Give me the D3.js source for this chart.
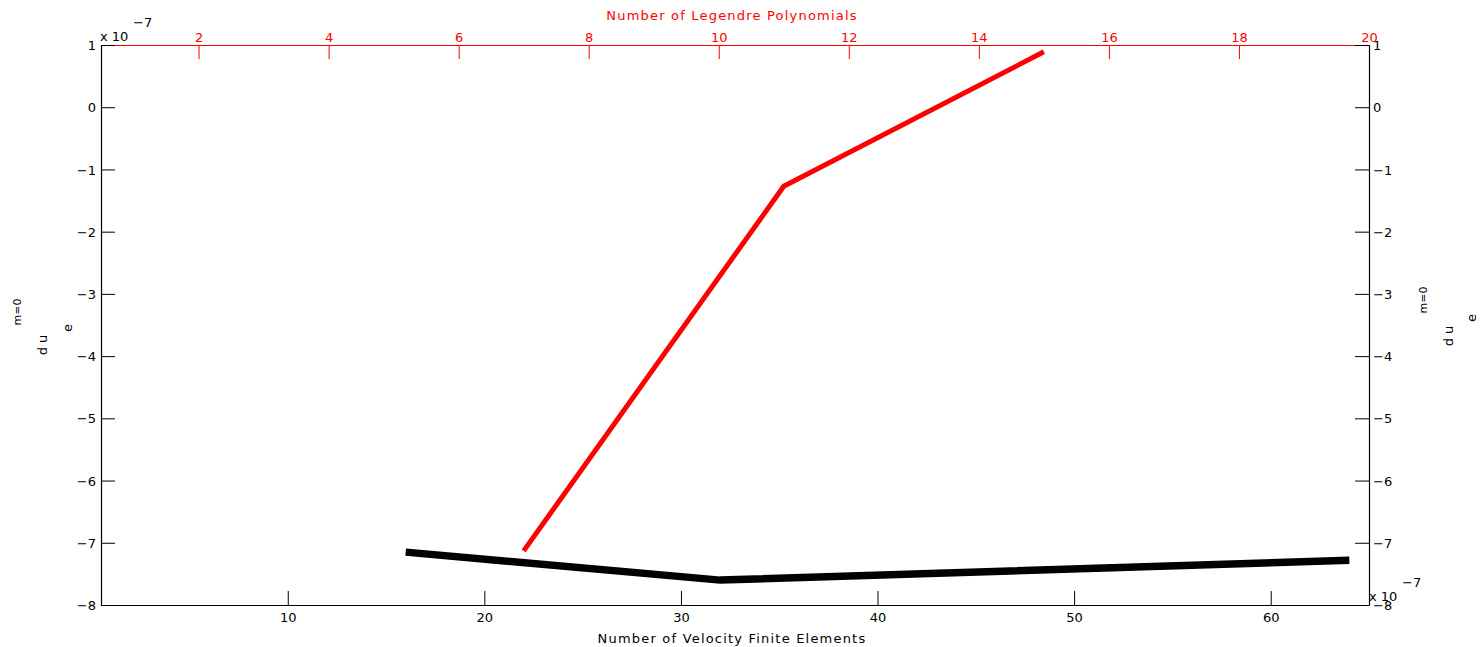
<!DOCTYPE html>
<html>
<head>
<meta charset="utf-8">
<script src="https://cdn.jsdelivr.net/npm/d3@7"></script>
<style>
  body { margin: 0; background: #fff; }
  svg { font-family: "DejaVu Sans", sans-serif; font-size: 13px; }
  .title { letter-spacing: 1.2px; }
</style>
</head>
<body>
<svg width="1481" height="647"></svg>
<script>
// values are in units of 1e-7
let elements = [16, 32, 64],
    elementErr = [-7.15, -7.60, -7.28],
    legendre = [7, 11, 15],
    legendreErr = [-7.13, -1.27, 0.89],
    yTicks = [1, 0, -1, -2, -3, -4, -5, -6, -7, -8],
    bottomTicks = [10, 20, 30, 40, 50, 60],
    topTicks = [2, 4, 6, 8, 10, 12, 14, 16, 18, 20];

let svg = d3.select("svg"),
    margin = {top: 45, right: 112, bottom: 42, left: 101},
    width = +svg.attr("width"),
    height = +svg.attr("height"),
    red = "#ff0000";

let xBottom = d3.scaleLinear().domain([0.5, 65]).range([margin.left, width - margin.right]),
    xTop = d3.scaleLinear().domain([0.5, 20]).range([margin.left, width - margin.right]),
    y = d3.scaleLinear().domain([-8, 1]).range([height - margin.bottom, margin.top]);

let fmt = d3.format("d"),
    yfmt = function(d) { return d < 0 ? "\u2212" + (-d) : d; },
    tickLen = 14;

// bottom axis
let gb = svg.append("g").attr("transform", "translate(0," + y(-8) + ")")
    .call(d3.axisTop(xBottom).tickValues(bottomTicks).tickSize(tickLen).tickSizeOuter(0).tickFormat(""));
gb.selectAll(".tick")
  .append("text").attr("y", 17).attr("text-anchor", "middle").attr("fill", "#000")
  .text(function(d) { return fmt(d); });

// top axis (red)
let gt = svg.append("g").attr("transform", "translate(0," + y(1) + ")")
    .call(d3.axisBottom(xTop).tickValues(topTicks).tickSize(tickLen).tickSizeOuter(0).tickFormat(""));
gt.selectAll("line, path").attr("stroke", red);
gt.selectAll(".tick")
  .append("text").attr("y", -3).attr("text-anchor", "middle").attr("fill", red)
  .text(function(d) { return fmt(d); });

// left axis
let gl = svg.append("g").attr("transform", "translate(" + margin.left + ",0)")
    .call(d3.axisRight(y).tickValues(yTicks).tickSize(tickLen).tickSizeOuter(0).tickFormat(""));
gl.selectAll(".tick")
  .append("text").attr("x", -5).attr("dy", "0.35em").attr("text-anchor", "end").attr("fill", "#000")
  .text(yfmt);

// right axis
let gr = svg.append("g").attr("transform", "translate(" + (width - margin.right) + ",0)")
    .call(d3.axisLeft(y).tickValues(yTicks).tickSize(tickLen).tickSizeOuter(0).tickFormat(""));
gr.selectAll(".tick")
  .append("text").attr("x", 4).attr("dy", "0.35em").attr("text-anchor", "start").attr("fill", "#000")
  .text(yfmt);

svg.selectAll("g").attr("font-size", 13).attr("font-family", null);
svg.selectAll(".domain").attr("stroke-width", 1.2);

// lines
let lineB = d3.line().x(function(d) { return xBottom(d[0]); }).y(function(d) { return y(d[1]); }),
    lineT = d3.line().x(function(d) { return xTop(d[0]); }).y(function(d) { return y(d[1]); });

svg.append("path")
  .datum(d3.zip(elements, elementErr))
  .attr("fill", "none").attr("stroke", "#000").attr("stroke-width", 7.5)
  .attr("d", lineB);

svg.append("path")
  .datum(d3.zip(legendre, legendreErr))
  .attr("fill", "none").attr("stroke", red).attr("stroke-width", 5)
  .attr("d", lineT);

// axis titles
svg.append("text").attr("class", "title").attr("x", 732).attr("y", 643)
  .attr("text-anchor", "middle").text("Number of Velocity Finite Elements");
svg.append("text").attr("class", "title").attr("x", 732).attr("y", 20)
  .attr("text-anchor", "middle").attr("fill", red).text("Number of Legendre Polynomials");

// exponent labels
function exponent(x, yy) {
  svg.append("text").attr("x", x).attr("y", yy).text("x 10");
  svg.append("text").attr("x", x + 33).attr("y", yy - 14).text("\u22127");
}
exponent(100, 41);
exponent(1369, 601);

// rotated y labels
function ylabel(parts) {
  parts.forEach(function(p) {
    svg.append("text")
      .attr("transform", "translate(" + p[0] + "," + p[1] + ") rotate(-90)")
      .attr("text-anchor", "middle").attr("dy", "0.35em")
      .style("font-size", p[3] || "13px")
      .text(p[2]);
  });
}
ylabel([[17, 312, "m=0", "11px"], [42, 345, "d u"], [67, 328, "e"]]);
ylabel([[1423, 300, "m=0", "11px"], [1448, 336, "d u"], [1471, 318, "e"]]);
</script>
</body>
</html>
